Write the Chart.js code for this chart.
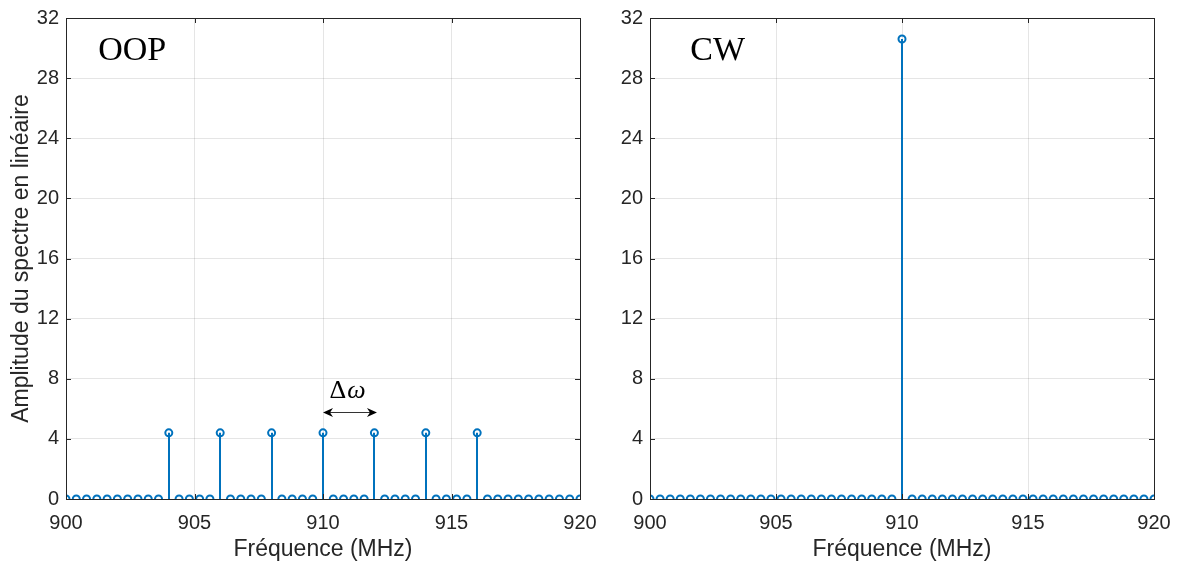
<!DOCTYPE html>
<html>
<head>
<meta charset="utf-8">
<script src="https://cdn.jsdelivr.net/npm/chart.js@4"></script>
<style>
  body { margin: 0; background: #fff; }
  #wrap { position: relative; width: 1178px; height: 563px; }
  #left { position: absolute; left: 0; top: 0; }
  #right { position: absolute; left: 600px; top: 0; }
</style>
</head>
<body>
<div id="wrap">
  <canvas id="left" width="600" height="563"></canvas>
  <canvas id="right" width="578" height="563"></canvas>
</div>
<script>
// fréquences (MHz)
const freqs = [900, 900.4, 900.8, 901.2, 901.6, 902, 902.4, 902.8, 903.2, 903.6,
  904, 904.4, 904.8, 905.2, 905.6, 906, 906.4, 906.8, 907.2, 907.6,
  908, 908.4, 908.8, 909.2, 909.6, 910, 910.4, 910.8, 911.2, 911.6,
  912, 912.4, 912.8, 913.2, 913.6, 914, 914.4, 914.8, 915.2, 915.6,
  916, 916.4, 916.8, 917.2, 917.6, 918, 918.4, 918.8, 919.2, 919.6, 920];

// amplitude OOP
const ampOOP = [0, 0, 0, 0, 0, 0, 0, 0, 0, 0,
  4.4, 0, 0, 0, 0, 4.4, 0, 0, 0, 0,
  4.4, 0, 0, 0, 0, 4.4, 0, 0, 0, 0,
  4.4, 0, 0, 0, 0, 4.4, 0, 0, 0, 0,
  4.4, 0, 0, 0, 0, 0, 0, 0, 0, 0, 0];

// amplitude CW
const ampCW = [0, 0, 0, 0, 0, 0, 0, 0, 0, 0,
  0, 0, 0, 0, 0, 0, 0, 0, 0, 0,
  0, 0, 0, 0, 0, 30.6, 0, 0, 0, 0,
  0, 0, 0, 0, 0, 0, 0, 0, 0, 0,
  0, 0, 0, 0, 0, 0, 0, 0, 0, 0, 0];

const xTicks = [900, 905, 910, 915, 920];
const yTicks = [0, 4, 8, 12, 16, 20, 24, 28, 32];

const bleu = '#0072BD';
const axe = '#262626';
const police = "'Liberation Sans', Arial, sans-serif";

// tiges + cadre + petites graduations intérieures
const stemPlugin = {
  id: 'stems',
  beforeDatasetsDraw(chart) {
    const { ctx, scales: { x, y } } = chart;
    ctx.save();
    ctx.strokeStyle = bleu;
    ctx.lineWidth = 2;
    chart.data.datasets[0].data.forEach(p => {
      if (p.y !== 0) {
        const px = Math.round(x.getPixelForValue(p.x));
        ctx.beginPath();
        ctx.moveTo(px, y.getPixelForValue(0));
        ctx.lineTo(px, y.getPixelForValue(p.y));
        ctx.stroke();
      }
    });
    ctx.restore();
  },
  afterDraw(chart) {
    const { ctx, chartArea: a, scales: { x, y } } = chart;
    ctx.save();
    ctx.strokeStyle = axe;
    ctx.lineWidth = 1;
    ctx.strokeRect(Math.round(a.left) + 0.5, Math.round(a.top) + 0.5,
      Math.round(a.right - a.left), Math.round(a.bottom - a.top));
    ctx.beginPath();
    xTicks.forEach(v => {
      const px = Math.round(x.getPixelForValue(v)) + 0.5;
      ctx.moveTo(px, a.top); ctx.lineTo(px, a.top + 5);
      ctx.moveTo(px, a.bottom); ctx.lineTo(px, a.bottom - 5);
    });
    yTicks.forEach(v => {
      const py = Math.round(y.getPixelForValue(v)) + 0.5;
      ctx.moveTo(a.left, py); ctx.lineTo(a.left + 5, py);
      ctx.moveTo(a.right, py); ctx.lineTo(a.right - 5, py);
    });
    ctx.stroke();

    const opts = chart.options.plugins.stems;
    ctx.fillStyle = '#000';
    ctx.font = "34px 'Liberation Serif', 'Times New Roman', serif";
    ctx.textBaseline = 'alphabetic';
    ctx.textAlign = 'left';
    ctx.fillText(opts.label, x.getPixelForValue(opts.labelX), y.getPixelForValue(29.2));

    if (opts.arrow) {
      const x0 = x.getPixelForValue(910), x1 = x.getPixelForValue(912.1);
      const ay = Math.round(y.getPixelForValue(5.78)) + 0.5;
      ctx.strokeStyle = '#333';
      ctx.beginPath();
      ctx.moveTo(x0 + 4, ay); ctx.lineTo(x1 - 4, ay);
      ctx.stroke();
      ctx.beginPath();
      ctx.moveTo(x0, ay); ctx.lineTo(x0 + 10, ay - 4.5); ctx.lineTo(x0 + 7, ay); ctx.lineTo(x0 + 10, ay + 4.5); ctx.closePath();
      ctx.moveTo(x1, ay); ctx.lineTo(x1 - 10, ay - 4.5); ctx.lineTo(x1 - 7, ay); ctx.lineTo(x1 - 10, ay + 4.5); ctx.closePath();
      ctx.fill();
      const tx = x.getPixelForValue(910.25), ty = y.getPixelForValue(6.75);
      ctx.font = "26px 'Liberation Serif', serif";
      ctx.fillText('\u0394', tx, ty);
      const w = ctx.measureText('\u0394').width;
      ctx.font = "italic 26px 'Liberation Serif', serif";
      ctx.fillText('\u03C9', tx + w + 1, ty);
    }
    ctx.restore();
  }
};

function makeChart(id, amps, opts) {
  const points = freqs.map((f, i) => ({ x: f, y: amps[i] }));
  return new Chart(document.getElementById(id), {
    type: 'scatter',
    data: {
      datasets: [{
        data: points,
        borderColor: bleu,
        backgroundColor: 'rgba(255,255,255,0)',
        pointRadius: 3.5,
        pointBorderWidth: 2,
        pointHoverRadius: 3.5
      }]
    },
    options: {
      responsive: false,
      animation: false,
      layout: { padding: { left: 0, right: opts.padRight, top: 18, bottom: 0 } },
      plugins: {
        legend: { display: false },
        tooltip: { enabled: false },
        stems: { label: opts.label, labelX: opts.labelX, arrow: opts.arrow }
      },
      scales: {
        x: {
          type: 'linear', min: 900, max: 920,
          afterBuildTicks: s => { s.ticks = xTicks.map(v => ({ value: v })); },
          afterFit: s => { s.height = 64; s.paddingLeft = 0; s.paddingRight = 0; },
          ticks: { color: axe, font: { family: police, size: 20 }, padding: 12 },
          grid: { color: 'rgba(38,38,38,0.12)', drawTicks: false },
          border: { display: false },
          title: { display: true, text: 'Fréquence (MHz)', color: axe,
            font: { family: police, size: 23 }, padding: { top: 2, bottom: 0 } }
        },
        y: {
          min: 0, max: 32,
          afterBuildTicks: s => { s.ticks = yTicks.map(v => ({ value: v })); },
          afterFit: s => { s.width = opts.yWidth; s.paddingTop = 0; s.paddingBottom = 0; },
          ticks: { color: axe, font: { family: police, size: 20 }, padding: 7 },
          grid: { color: 'rgba(38,38,38,0.12)', drawTicks: false },
          border: { display: false },
          title: { display: opts.yTitle !== '', text: opts.yTitle, color: axe,
            font: { family: police, size: 23 }, padding: { top: 8, bottom: 0 } }
        }
      }
    },
    plugins: [stemPlugin]
  });
}

makeChart('left', ampOOP, { label: 'OOP', labelX: 901.25, arrow: true, padRight: 20, yWidth: 66,
  yTitle: 'Amplitude du spectre en linéaire' });
makeChart('right', ampCW, { label: 'CW', labelX: 901.6, arrow: false, padRight: 24, yWidth: 50, yTitle: '' });
</script>
</body>
</html>
